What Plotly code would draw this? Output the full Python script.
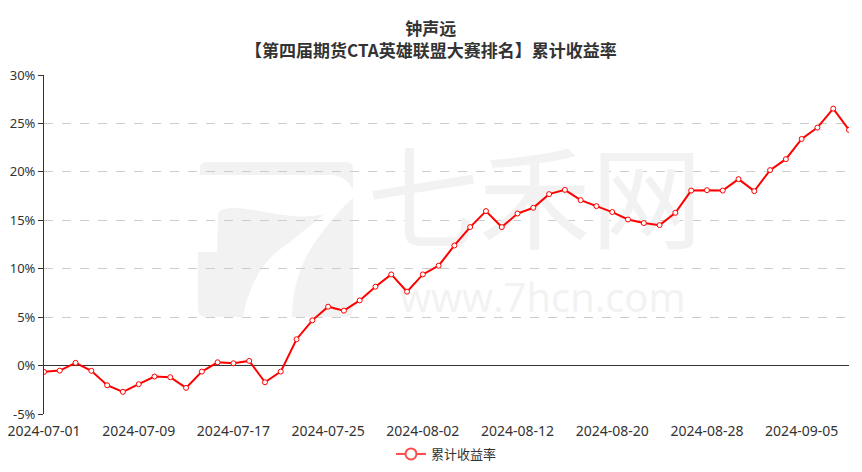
import plotly.graph_objects as go

dates = ["2024-07-01","2024-07-02","2024-07-03","2024-07-04","2024-07-05",
         "2024-07-08","2024-07-09","2024-07-10","2024-07-11","2024-07-12",
         "2024-07-15","2024-07-16","2024-07-17","2024-07-18","2024-07-19",
         "2024-07-22","2024-07-23","2024-07-24","2024-07-25","2024-07-26",
         "2024-07-29","2024-07-30","2024-07-31","2024-08-01","2024-08-02",
         "2024-08-05","2024-08-06","2024-08-07","2024-08-08","2024-08-09",
         "2024-08-12","2024-08-13","2024-08-14","2024-08-15","2024-08-16",
         "2024-08-19","2024-08-20","2024-08-21","2024-08-22","2024-08-23",
         "2024-08-26","2024-08-27","2024-08-28","2024-08-29","2024-08-30",
         "2024-09-02","2024-09-03","2024-09-04","2024-09-05","2024-09-06",
         "2024-09-09","2024-09-10"]

returns = [-0.65, -0.52, 0.28, -0.54, -2.03, -2.71, -1.92, -1.13, -1.20, -2.30,
           -0.62, 0.34, 0.24, 0.48, -1.72, -0.62, 2.72, 4.67, 6.08, 5.67,
           6.73, 8.14, 9.41, 7.63, 9.41, 10.31, 12.40, 14.30, 15.95, 14.30,
           15.70, 16.29, 17.70, 18.14, 17.08, 16.46, 15.85, 15.08, 14.71, 14.50,
           15.77, 18.07, 18.11, 18.07, 19.25, 18.01, 20.18, 21.31, 23.40, 24.57,
           26.53, 24.33]

series_name = "累计收益率"
title_line1 = "钟声远"
title_line2 = "【第四届期货CTA英雄联盟大赛排名】累计收益率"
y_ticks = [-5, 0, 5, 10, 15, 20, 25, 30]
y_ticktext = [f"{v}%" for v in y_ticks]
label_step = 6

FONT = "Noto Sans CJK SC, Microsoft YaHei, sans-serif"
TICK_FONT = "Noto Sans, Noto Sans CJK SC, sans-serif"
W, H = 862, 472
ML, MR, MT, MB = 44, 13, 75, 58
PW, PH = W - ML - MR, H - MT - MB

xs = list(range(len(dates)))
tickvals = xs[::label_step]
ticktext = dates[::label_step]


def px_path(parts):
    """Build an SVG path in paper coords from pixel-coordinate commands."""
    out = []
    for cmd, pts in parts:
        coords = " ".join(f"{(x - ML) / PW:.5f},{(H - MB - y) / PH:.5f}" for x, y in pts)
        out.append(f"{cmd}{coords}")
    return " ".join(out) + " Z"


WM = "#f2f2f2"
logo_paths = [
    # top bar with right ear
    [("M", [(200, 175)]), ("L", [(200, 169)]), ("Q", [(200, 162), (207, 162)]),
     ("L", [(346, 162)]), ("Q", [(353, 162), (353, 169)]), ("L", [(353, 190)]),
     ("Q", [(347, 177), (334, 175)])],
    # left column + inner block
    [("M", [(218, 214)]), ("Q", [(220, 208), (232, 208)]),
     ("C", [(262, 208), (292, 222), (324, 214)]),
     ("C", [(310, 226), (300, 234), (290, 242)]),
     ("C", [(265, 258), (250, 280), (243, 317)]),
     ("L", [(206, 317)]), ("Q", [(198, 317), (198, 309)]),
     ("L", [(198, 252)]), ("L", [(217, 252)])],
    # right piece
    [("M", [(353, 198)]), ("L", [(353, 309)]), ("Q", [(353, 317), (345, 317)]),
     ("L", [(292, 317)]), ("C", [(292, 290), (300, 262), (318, 238)]),
     ("C", [(330, 222), (342, 207), (353, 198)])],
]
shapes = [dict(type="path", xref="paper", yref="paper", path=px_path(p),
               fillcolor=WM, line=dict(width=0), layer="below") for p in logo_paths]

fig = go.Figure()

# watermark text (drawn first, beneath the data line)
fig.add_trace(go.Scatter(
    x=[31.1], y=[15.8], mode="text", text=["七禾网"],
    textfont=dict(size=112, color=WM, family=FONT),
    hoverinfo="skip", showlegend=False))
fig.add_trace(go.Scatter(
    x=[31.6], y=[6.6], mode="text", text=["www.7hcn.com"],
    textfont=dict(size=40, color=WM, family="Open Sans, sans-serif"),
    hoverinfo="skip", showlegend=False))

fig.add_trace(go.Scatter(
    x=xs, y=returns, mode="lines+markers", name=series_name,
    customdata=dates, showlegend=False,
    hovertemplate="%{customdata}<br>%{y:.2f}%<extra></extra>",
    line=dict(color="#ff0000", width=2),
    marker=dict(symbol="circle", size=5, color="#ffffff",
                line=dict(color="#ff0000", width=1))))

# legend entry (larger symbol, like the reference legend)
fig.add_trace(go.Scatter(
    x=[None], y=[None], mode="lines+markers", name=series_name,
    line=dict(color="#ff4a4a", width=2),
    marker=dict(symbol="circle", size=11, color="#ffffff",
                line=dict(color="#ff4a4a", width=2))))

fig.update_layout(
    width=W, height=H,
    margin=dict(l=ML, r=MR, t=MT, b=MB, autoexpand=False),
    paper_bgcolor="#ffffff", plot_bgcolor="rgba(0,0,0,0)",
    font=dict(family=FONT, size=12, color="#333333"),
    showlegend=True,
    legend=dict(orientation="h", x=0.5, xanchor="center", y=-0.118, yanchor="middle",
                font=dict(size=13, color="#333333"), itemwidth=30,
                bgcolor="rgba(0,0,0,0)"),
    shapes=shapes,
    annotations=[
        dict(text="<b>" + title_line1 + "</b><br><b>" + title_line2 + "</b>",
             xref="paper", yref="paper", align="center",
             x=(431 - ML) / PW, y=1, yshift=37, xanchor="center", yanchor="middle",
             showarrow=False, font=dict(size=17, color="#333333", family=FONT)),
    ],
)

fig.update_xaxes(
    range=[0, len(dates) - 1], tickmode="array", tickvals=tickvals, ticktext=ticktext,
    showgrid=False, zeroline=False, showline=False,
    ticks="outside", ticklen=4, tickcolor="rgba(0,0,0,0)", automargin=False,
    tickfont=dict(size=14, color="#333333", family=TICK_FONT), fixedrange=True)

fig.update_yaxes(
    range=[-5, 30], tickmode="array", tickvals=y_ticks, ticktext=y_ticktext,
    showgrid=True, gridcolor="#cccccc", griddash="dash", gridwidth=1,
    zeroline=True, zerolinecolor="#333333", zerolinewidth=1,
    showline=True, linecolor="#333333", linewidth=1, automargin=False,
    ticks="outside", ticklen=5, tickcolor="#333333",
    tickfont=dict(size=13, color="#333333", family=TICK_FONT), fixedrange=True)

fig.write_html("out.html", config={"displayModeBar": False},
               post_script="document.body.style.margin='0';document.body.style.padding='0';")
